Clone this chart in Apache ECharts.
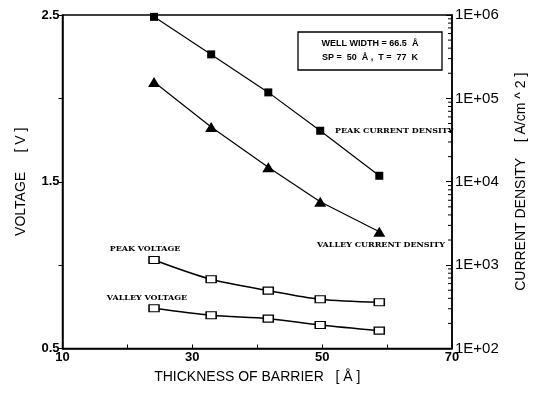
<!DOCTYPE html>
<html><head><meta charset="utf-8">
<script src="https://cdn.jsdelivr.net/npm/echarts@6/dist/echarts.min.js"></script>
<style>html,body{margin:0;padding:0;background:#fff}#c{width:539px;height:393px}</style>
</head><body><div id="c"></div>
<script>
const thickness = [24.1, 32.9, 41.7, 49.7, 58.8];
const peakCurrent = [9.5e5, 3.37e5, 1.18e5, 4.09e4, 1.18e4];
const valleyCurrent = [1.57e5, 4.53e4, 1.49e4, 5.75e3, 2.51e3];
const peakVoltage = [1.031, 0.915, 0.847, 0.795, 0.777];
const valleyVoltage = [0.741, 0.699, 0.679, 0.641, 0.607];
const xLabels = [10, 30, 50, 70];
const vLabels = [0.5, 1.5, 2.5];
const minorTicks = [];
for (let d = 2; d < 6; d++) for (let m = 2; m <= 9; m++) minorTicks.push(m * Math.pow(10, d));

const pair = (xs, ys) => xs.map((x, i) => [x, ys[i]]);
const chart = echarts.init(document.getElementById('c'));
const F = 'Liberation Sans, Arial, sans-serif';
const ann = 'DejaVu Serif, serif';
chart.setOption({
  animation: false,
  grid: {left: 62.5, right: 87, top: 15, bottom: 44.5, show: true, borderColor: '#000', borderWidth: 1.5},
  xAxis: {
    type: 'value', min: 10, max: 70, interval: 10,
    name: 'THICKNESS OF BARRIER   [ Å ]', nameLocation: 'middle', nameGap: 22,
    nameTextStyle: {fontFamily: F, fontSize: 14, color: '#000'},
    axisLine: {lineStyle: {color: '#000', width: 1.5}},
    axisTick: {inside: true, length: 4, lineStyle: {color: '#000'}},
    axisLabel: {fontFamily: F, fontSize: 13, fontWeight: 'bold', color: '#000', margin: 2,
      formatter: v => xLabels.includes(v) ? String(v) : ''},
    splitLine: {show: false}
  },
  yAxis: [{
    type: 'value', min: 0.5, max: 2.5, interval: 0.5,
    name: 'VOLTAGE     [ V ]', nameLocation: 'middle', nameGap: 34, nameRotate: 90,
    nameTextStyle: {fontFamily: F, fontSize: 14, color: '#000'},
    axisLine: {show: true, lineStyle: {color: '#000', width: 1.5}},
    axisTick: {show: true, length: 4, lineStyle: {color: '#000'}},
    axisLabel: {fontFamily: F, fontSize: 13, fontWeight: 'bold', color: '#000', margin: 3,
      formatter: v => vLabels.some(l => Math.abs(l - v) < 1e-9) ? v.toFixed(1) : ''},
    splitLine: {show: false}
  }, {
    type: 'log', logBase: 10, min: 100, max: 1e6, position: 'right',
    name: 'CURRENT DENSITY    [ A/cm ^ 2 ]', nameLocation: 'middle', nameGap: 62, nameRotate: 90,
    nameTextStyle: {fontFamily: F, fontSize: 14, color: '#000'},
    axisLine: {show: true, lineStyle: {color: '#000', width: 1.5}},
    axisTick: {show: true, inside: true, length: 6, lineStyle: {color: '#000'}},
    axisLabel: {fontFamily: F, fontSize: 15, color: '#000', margin: 3,
      formatter: v => '1E+0' + Math.round(Math.log10(v))},
    splitLine: {show: false}
  }],
  series: [{
    type: 'line', yAxisIndex: 1, data: pair(thickness, peakCurrent),
    symbol: 'rect', symbolSize: [8, 8], showAllSymbol: true,
    lineStyle: {color: '#000', width: 1.2}, itemStyle: {color: '#000'}
  }, {
    type: 'line', yAxisIndex: 1, data: pair(thickness, valleyCurrent),
    symbol: 'triangle', symbolSize: [12, 10], showAllSymbol: true,
    lineStyle: {color: '#000', width: 1.2}, itemStyle: {color: '#000'}
  }, {
    type: 'line', yAxisIndex: 0, data: pair(thickness, peakVoltage), smooth: 0.3,
    symbol: 'rect', symbolSize: [10, 7], showAllSymbol: true,
    lineStyle: {color: '#000', width: 1.5}, itemStyle: {color: '#fff', borderColor: '#000', borderWidth: 1.3}
  }, {
    type: 'line', yAxisIndex: 0, data: pair(thickness, valleyVoltage), smooth: 0.3,
    symbol: 'rect', symbolSize: [10, 7], showAllSymbol: true,
    lineStyle: {color: '#000', width: 1.5}, itemStyle: {color: '#fff', borderColor: '#000', borderWidth: 1.3}
  }, {
    type: 'custom', yAxisIndex: 1, data: minorTicks.map(v => [70, v]), silent: true,
    renderItem: (params, api) => {
      const p = api.coord([70, api.value(1)]);
      return {type: 'line', shape: {x1: p[0] - 4, y1: p[1], x2: p[0], y2: p[1]}, style: {stroke: '#000', lineWidth: 1}};
    }
  }],
  graphic: [
    {type: 'rect', shape: {x: 298, y: 32, width: 144, height: 38}, style: {fill: '#fff', stroke: '#000', lineWidth: 1.3}},
    {type: 'text', x: 370, y: 44, style: {text: 'WELL WIDTH = 66.5  Å', font: 'bold 9px ' + F, fill: '#000', textAlign: 'center', textVerticalAlign: 'middle'}},
    {type: 'text', x: 370, y: 58, style: {text: 'SP =  50  Å ,  T =  77  K', font: 'bold 9px ' + F, fill: '#000', textAlign: 'center', textVerticalAlign: 'middle'}},
    {type: 'text', x: 335, y: 131, style: {text: 'PEAK CURRENT DENSITY', font: 'bold 8px ' + ann, fill: '#000', textVerticalAlign: 'middle'}},
    {type: 'text', x: 381, y: 245, style: {text: 'VALLEY CURRENT DENSITY', font: 'bold 8px ' + ann, fill: '#000', textAlign: 'center', textVerticalAlign: 'middle'}},
    {type: 'text', x: 145, y: 249, style: {text: 'PEAK VOLTAGE', font: 'bold 8px ' + ann, fill: '#000', textAlign: 'center', textVerticalAlign: 'middle'}},
    {type: 'text', x: 147, y: 298, style: {text: 'VALLEY VOLTAGE', font: 'bold 8px ' + ann, fill: '#000', textAlign: 'center', textVerticalAlign: 'middle'}}
  ]
});
</script></body></html>
